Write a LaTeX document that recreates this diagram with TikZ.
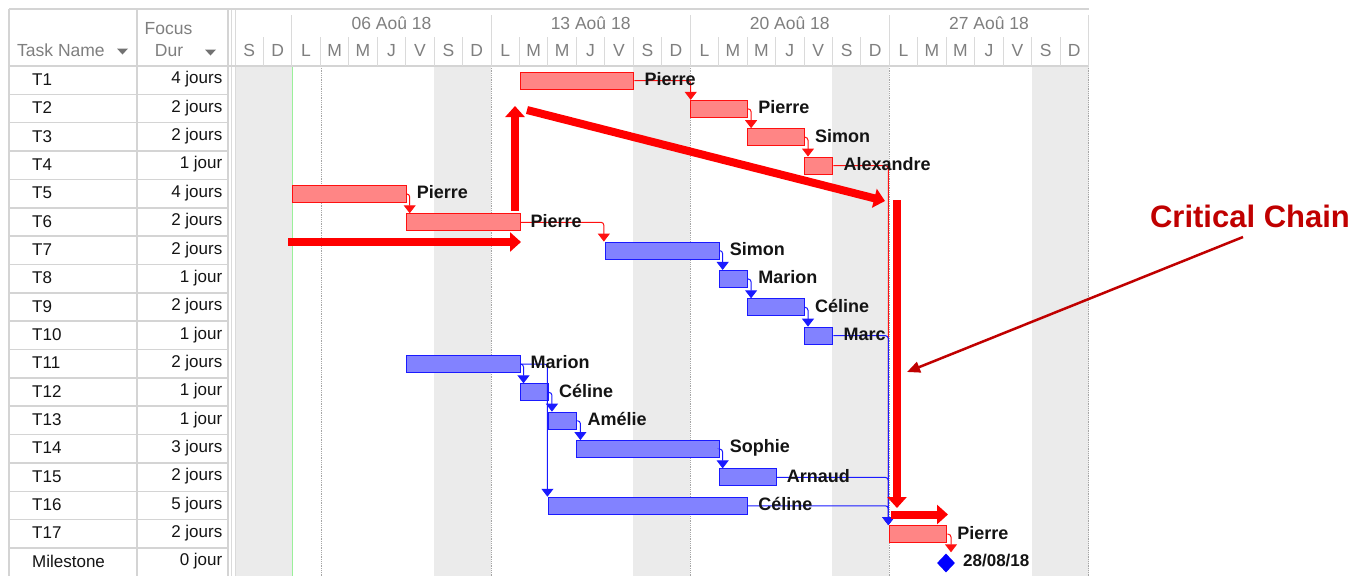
\documentclass[tikz,border=0pt]{standalone}
\usepackage{fontspec}
\setmainfont{Liberation Sans}
\usetikzlibrary{arrows.meta,shapes.geometric}
\definecolor{gridg}{HTML}{D4D4D4}
\definecolor{hdrline}{HTML}{DADADA}
\definecolor{hdrtxt}{HTML}{7F7F7F}
\definecolor{wkend}{HTML}{EBEBEB}
\definecolor{rfill}{HTML}{FF8585}
\definecolor{bfill}{HTML}{8282FF}
\definecolor{rline}{HTML}{FF1010}
\definecolor{bline}{HTML}{1A1AFF}
\definecolor{ccred}{HTML}{C00000}
\definecolor{txtc}{HTML}{141414}
\definecolor{lgreen}{HTML}{9AF09A}
\newcommand\dayx[1]{235+28.45*#1}
\newcommand\rowy[1]{80+28.35*#1}
\begin{document}
\begin{tikzpicture}[x=1pt,y=-1pt,
  rbar/.style={draw=rline,fill=rfill,line width=1pt,minimum height=17pt,inner sep=0pt,anchor=west},
  bbar/.style={draw=bline,fill=bfill,line width=1pt,minimum height=17pt,inner sep=0pt,anchor=west},
  lbl/.style={anchor=west,inner sep=0pt,text=txtc,font=\bfseries\fontsize{18}{18}\selectfont},
  rlk/.style={draw=rline,line width=1pt,rounded corners=3pt,-{Triangle[width=12pt,length=8pt]}},
  blk/.style={draw=bline,line width=1pt,rounded corners=3pt,-{Triangle[width=12pt,length=8pt]}},
  bigarr/.style={draw=red,line width=8pt,-{Triangle[width=19pt,length=11pt]}},
  tname/.style={anchor=west,inner sep=0pt,text=txtc,font=\fontsize{17}{17}\selectfont},
  tdur/.style={anchor=east,inner sep=0pt,text=txtc,font=\fontsize{17}{17}\selectfont},
  hdr/.style={inner sep=0pt,text=hdrtxt,font=\fontsize{17.5}{17.5}\selectfont},
  gline/.style={draw=gridg,line width=1.5pt},
  hline/.style={draw=hdrline,line width=1pt}
]
\useasboundingbox (0,0) rectangle (1369,576);
\fill[white] (0,0) rectangle (1369,576);
% weekend shading
\foreach \d in {0,7,14,21,28}{
  \fill[wkend] ({\dayx{\d}},66) rectangle ({\dayx{\d}+56.9},576);
}
% dotted lines
\foreach \xx in {321,491.15,690.3,889.45,1088.5}{
  \draw[draw=gray!70,line width=0.8pt,densely dotted] (\xx,66) -- (\xx,576);
}
\draw[lgreen,line width=1.2pt] (292.5,66) -- (292.5,576);
% table grid
\foreach \k in {1,...,17}{
  \draw[gline] (9,{66+28.35*\k}) -- (228,{66+28.35*\k});
}
\draw[gline] (9,9) -- (9,576);
\draw[gline] (137,9) -- (137,576);
\draw[gline] (228,9) -- (228,576);
\draw[hline] (231.5,9) -- (231.5,576);
\draw[hline] (235,9) -- (235,576);
\draw[gline] (9,9) -- (1088.5,9);
\draw[gline] (9,66) -- (1088.5,66);
% header lines in chart
\foreach \d in {2,9,16,23}{
  \draw[hline] ({\dayx{\d}},15) -- ({\dayx{\d}},66);
}
\draw[hline] (1088.5,15) -- (1088.5,66);
\foreach \d in {1,3,4,5,6,7,8,10,11,12,13,14,15,17,18,19,20,21,22,24,25,26,27,28,29}{
  \draw[hline] ({\dayx{\d}},37) -- ({\dayx{\d}},66);
}
% header texts
\node[hdr,anchor=west] (hTask) at (17,50) {Task Name};
\fill[hdrtxt!90!black] (117,48.5) -- (128,48.5) -- (122.5,54.5) -- cycle;
\node[hdr] (hFocus) at (168.5,29) {Focus};
\node[hdr] (hDur) at (169,50.5) {Dur};
\fill[hdrtxt!90!black] (205,49.5) -- (216,49.5) -- (210.5,55.5) -- cycle;
\node[hdr] (w1) at ({\dayx{2}+99.6},23) {06 Aoû 18};
\node[hdr] (w2) at ({\dayx{9}+99.6},23) {13 Aoû 18};
\node[hdr] (w3) at ({\dayx{16}+99.6},23) {20 Aoû 18};
\node[hdr] (w4) at ({\dayx{23}+99.6},23) {27 Aoû 18};
\foreach \L [count=\i from 0] in {S,D,L,M,M,J,V,S,D,L,M,M,J,V,S,D,L,M,M,J,V,S,D,L,M,M,J,V,S,D}{
  \node[hdr] (dl\i) at ({\dayx{\i}+14.2},50.5) {\L};
}
% table texts
\foreach \n/\dd [count=\i from 0] in {T1/4 jours,T2/2 jours,T3/2 jours,T4/1 jour,T5/4 jours,T6/2 jours,T7/2 jours,T8/1 jour,T9/2 jours,T10/1 jour,T11/2 jours,T12/1 jour,T13/1 jour,T14/3 jours,T15/2 jours,T16/5 jours,T17/2 jours,Milestone/0 jour}{
  \node[tname] (tn\i) at (32,{\rowy{\i}-0.5}) {\n};
  \node[tdur] (td\i) at (222.5,{\rowy{\i}-0.5}) {\dd};
}
% bars
\node[rbar,minimum width=113.8] (b1) at ({\dayx{10}},{\rowy{0}+0.5}) {};
\node[rbar,minimum width=56.9] (b2) at ({\dayx{16}},{\rowy{1}+0.5}) {};
\node[rbar,minimum width=56.9] (b3) at ({\dayx{18}},{\rowy{2}+0.5}) {};
\node[rbar,minimum width=28.45] (b4) at ({\dayx{20}},{\rowy{3}+0.5}) {};
\node[rbar,minimum width=113.8] (b5) at ({\dayx{2}},{\rowy{4}+0.5}) {};
\node[rbar,minimum width=113.8] (b6) at ({\dayx{6}},{\rowy{5}+0.5}) {};
\node[bbar,minimum width=113.8] (b7) at ({\dayx{13}},{\rowy{6}+0.5}) {};
\node[bbar,minimum width=28.45] (b8) at ({\dayx{17}},{\rowy{7}+0.5}) {};
\node[bbar,minimum width=56.9] (b9) at ({\dayx{18}},{\rowy{8}+0.5}) {};
\node[bbar,minimum width=28.45] (b10) at ({\dayx{20}},{\rowy{9}+0.5}) {};
\node[bbar,minimum width=113.8] (b11) at ({\dayx{6}},{\rowy{10}+0.5}) {};
\node[bbar,minimum width=28.45] (b12) at ({\dayx{10}},{\rowy{11}+0.5}) {};
\node[bbar,minimum width=28.45] (b13) at ({\dayx{11}},{\rowy{12}+0.5}) {};
\node[bbar,minimum width=142.25] (b14) at ({\dayx{12}},{\rowy{13}+0.5}) {};
\node[bbar,minimum width=56.9] (b15) at ({\dayx{17}},{\rowy{14}+0.5}) {};
\node[bbar,minimum width=199.15] (b16) at ({\dayx{11}},{\rowy{15}+0.5}) {};
\node[rbar,minimum width=56.9] (b17) at ({\dayx{23}},{\rowy{16}+0.5}) {};
\node[diamond,fill=blue,inner sep=0pt,minimum width=18pt,minimum height=19pt] (ms) at (946,563) {};
% links
\draw[rlk] (b1.east) -| ([xshift=0.5pt]b2.north west);
\draw[rlk] (b2.east) -| ([xshift=4pt]b3.north west);
\draw[rlk] (b3.east) -| ([xshift=4pt]b4.north west);
\draw[rlk] (b4.east) -| ([xshift=-1pt]b17.north west);
\draw[rlk] (b5.east) -| ([xshift=4pt]b6.north west);
\draw[rlk] (b6.east) -| ([xshift=-1pt]b7.north west);
\draw[blk] (b7.east) -| ([xshift=4pt]b8.north west);
\draw[blk] (b8.east) -| ([xshift=4pt]b9.north west);
\draw[blk] (b9.east) -| ([xshift=4pt]b10.north west);
\draw[blk] (b10.east) -| ([xshift=-1pt]b17.north west);
\draw[blk] (b11.east) -| ([xshift=4pt]b12.north west);
\draw[blk] (b11.east) -| ([xshift=-0.5pt]b16.north west);
\draw[blk] (b12.east) -| ([xshift=4pt]b13.north west);
\draw[blk] (b13.east) -| ([xshift=4pt]b14.north west);
\draw[blk] (b14.east) -| ([xshift=4pt]b15.north west);
\draw[blk] (b15.east) -| ([xshift=-1pt]b17.north west);
\draw[blk] (b16.east) -| ([xshift=-1pt]b17.north west);
\draw[rlk] (b17.east) -| ([xshift=5pt,yshift=1pt]ms.north);
% labels
\node[lbl] (l1) at ([xshift=10pt,yshift=1.5pt]b1.east) {Pierre};
\node[lbl] (l2) at ([xshift=10pt,yshift=1.5pt]b2.east) {Pierre};
\node[lbl] (l3) at ([xshift=10pt,yshift=1.5pt]b3.east) {Simon};
\node[lbl] (l4) at ([xshift=10pt,yshift=1.5pt]b4.east) {Alexandre};
\node[lbl] (l5) at ([xshift=10pt,yshift=1.5pt]b5.east) {Pierre};
\node[lbl] (l6) at ([xshift=10pt,yshift=1.5pt]b6.east) {Pierre};
\node[lbl] (l7) at ([xshift=10pt,yshift=1.5pt]b7.east) {Simon};
\node[lbl] (l8) at ([xshift=10pt,yshift=1.5pt]b8.east) {Marion};
\node[lbl] (l9) at ([xshift=10pt,yshift=1.5pt]b9.east) {Céline};
\node[lbl] (l10) at ([xshift=10pt,yshift=1.5pt]b10.east) {Marc};
\node[lbl] (l11) at ([xshift=10pt,yshift=1.5pt]b11.east) {Marion};
\node[lbl] (l12) at ([xshift=10pt,yshift=1.5pt]b12.east) {Céline};
\node[lbl] (l13) at ([xshift=10pt,yshift=1.5pt]b13.east) {Amélie};
\node[lbl] (l14) at ([xshift=10pt,yshift=1.5pt]b14.east) {Sophie};
\node[lbl] (l15) at ([xshift=10pt,yshift=1.5pt]b15.east) {Arnaud};
\node[lbl] (l16) at ([xshift=10pt,yshift=1.5pt]b16.east) {Céline};
\node[lbl] (l17) at ([xshift=10pt,yshift=1.5pt]b17.east) {Pierre};
\node[lbl,font=\bfseries\fontsize{17}{17}\selectfont] (lms) at (963,561) {28/08/18};
% critical chain arrows
\coordinate (c1s) at (288,242);
\coordinate (c1e) at (521,242);
\coordinate (c2s) at (515,211);
\coordinate (c2e) at (515,106);
\coordinate (c3s) at (527,110);
\coordinate (c3e) at (885,201);
\coordinate (c4s) at (897,200);
\coordinate (c4e) at (897,508);
\coordinate (c5s) at (891,514.5);
\coordinate (c5e) at (948,514.5);
\draw[bigarr] (c1s) -- (c1e);
\draw[bigarr] (c2s) -- (c2e);
\draw[bigarr] (c3s) -- (c3e);
\draw[bigarr] (c4s) -- (c4e);
\draw[bigarr] (c5s) -- (c5e);
\node[inner sep=0pt,text=ccred,font=\bfseries\fontsize{31}{31}\selectfont] (cc) at (1250,216) {Critical Chain};
\coordinate (ccs) at (1243,237);
\coordinate (cct) at (907,372);
\draw[draw=ccred,line width=2.5pt,-{Triangle[width=11pt,length=13pt]}] (ccs) -- (cct);
\end{tikzpicture}
\end{document}
